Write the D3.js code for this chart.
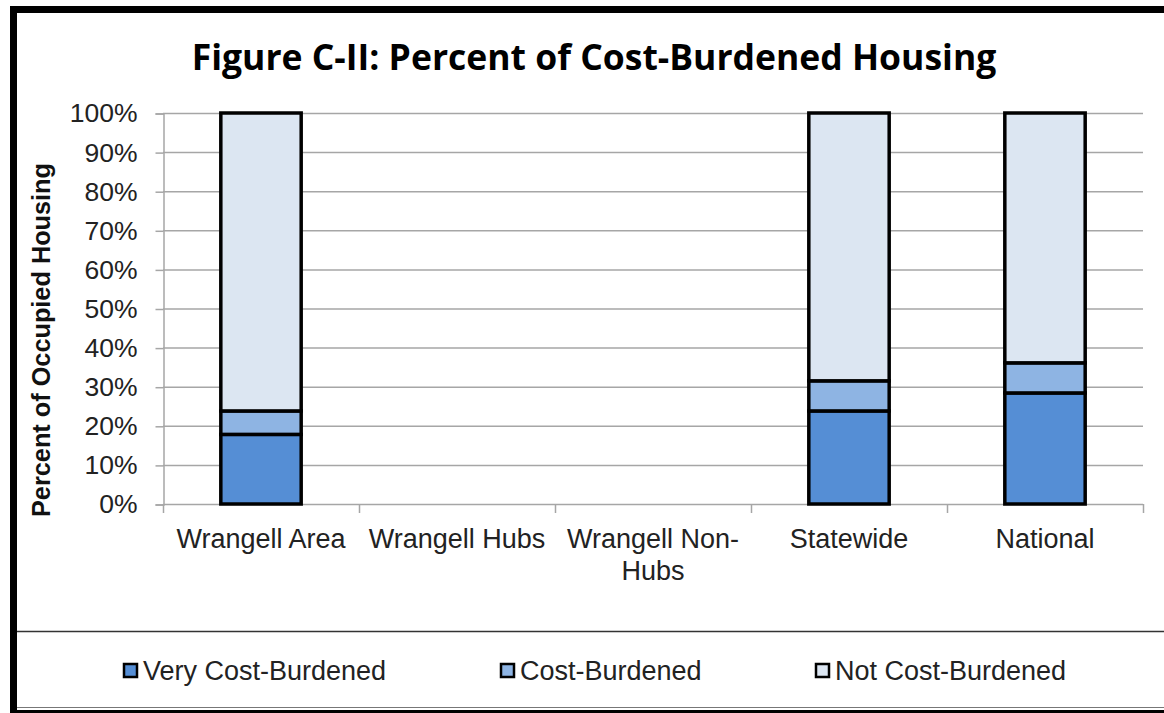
<!DOCTYPE html>
<html>
<head>
<meta charset="utf-8">
<script src="https://cdn.jsdelivr.net/npm/d3@7"></script>
<style>
  body { margin: 0; background: #fff; }
  svg { display: block; }
</style>
</head>
<body>
<div class="chart"></div>
<script>
// chart data
const categories = ["Wrangell Area", "Wrangell Hubs", "Wrangell Non-Hubs", "Statewide", "National"];
const seriesNames = ["Very Cost-Burdened", "Cost-Burdened", "Not Cost-Burdened"];
const veryBurdened = [17.8, 0, 0, 23.8, 28.4];
const burdened = [6.0, 0, 0, 7.7, 7.7];
const notBurdened = [76.2, 0, 0, 68.5, 63.9];
const yTicks = [0, 10, 20, 30, 40, 50, 60, 70, 80, 90, 100];

const colors = ["#558ed5", "#8eb4e3", "#dce6f2"];

const w = 1164;
const h = 713;
const plot = { left: 163, right: 1143, top: 113, bottom: 504 };

const svg = d3.select(".chart")
  .append("svg")
  .attr("width", w)
  .attr("height", h);

/* frame */
svg.append("rect")
  .attr("x", 13.5).attr("y", 9.5)
  .attr("width", w + 20).attr("height", 704)
  .attr("fill", "none").attr("stroke", "#000").attr("stroke-width", 7);

svg.append("line")
  .attr("x1", 17).attr("x2", w)
  .attr("y1", 707.5).attr("y2", 707.5)
  .attr("stroke", "#777").attr("stroke-width", 1);

/* title */
svg.append("text")
  .attr("x", 594).attr("y", 70)
  .attr("text-anchor", "middle")
  .attr("font-family", "'Open Sans', Lato, sans-serif")
  .attr("font-weight", "bold")
  .attr("font-size", 35.5)
  .attr("fill", "#000")
  .text("Figure C-II: Percent of Cost-Burdened Housing");

/* scales */
const rows = categories.map((c, i) => ({
  cat: c,
  "Very Cost-Burdened": veryBurdened[i],
  "Cost-Burdened": burdened[i],
  "Not Cost-Burdened": notBurdened[i]
}));
const stacked = d3.stack().keys(seriesNames)(rows);

const xScale = d3.scaleBand()
  .domain(categories)
  .range([plot.left, plot.right])
  .paddingInner(0.59)
  .paddingOuter(0.295);

const yScale = d3.scaleLinear()
  .domain([0, 100])
  .range([plot.bottom, plot.top]);

/* gridlines */
svg.append("g")
  .attr("class", "grid")
  .selectAll("line")
  .data(yTicks.filter(t => t > 0))
  .enter()
  .append("line")
  .attr("x1", plot.left).attr("x2", plot.right)
  .attr("y1", d => yScale(d) + 0.5).attr("y2", d => yScale(d) + 0.5)
  .attr("stroke", "#a6a6a6").attr("stroke-width", 1.5);

/* y axis */
const yAxis = d3.axisLeft(yScale)
  .tickValues(yTicks)
  .tickSize(8)
  .tickPadding(18)
  .tickFormat(d => d + "%");

const yG = svg.append("g")
  .attr("transform", "translate(" + (plot.left + 0.5) + ",0.5)")
  .call(yAxis);
yG.selectAll("path, line").attr("stroke", "#a6a6a6").attr("stroke-width", 1.5);
yG.selectAll("text")
  .attr("font-family", "'Liberation Sans', Arial, sans-serif")
  .attr("font-size", 26.5)
  .attr("fill", "#222");

/* x axis */
const step = xScale.step();
const bounds = categories.map(c => xScale(c) - (step - xScale.bandwidth()) / 2);
bounds.push(plot.right);

const xG = svg.append("g").attr("class", "x-axis");
xG.append("line")
  .attr("x1", plot.left).attr("x2", plot.right)
  .attr("y1", plot.bottom + 0.5).attr("y2", plot.bottom + 0.5)
  .attr("stroke", "#a6a6a6").attr("stroke-width", 1.5);
xG.selectAll(".tick")
  .data(bounds)
  .enter()
  .append("line")
  .attr("x1", d => d + 0.5).attr("x2", d => d + 0.5)
  .attr("y1", plot.bottom).attr("y2", plot.bottom + 9)
  .attr("stroke", "#a6a6a6").attr("stroke-width", 1.5);

const wrap = { "Wrangell Non-Hubs": ["Wrangell Non-", "Hubs"] };
xG.selectAll(".lbl")
  .data(categories)
  .enter()
  .append("text")
  .attr("class", "lbl")
  .attr("x", d => xScale(d) + xScale.bandwidth() / 2)
  .attr("y", 548)
  .attr("text-anchor", "middle")
  .attr("font-family", "'Liberation Sans', Arial, sans-serif")
  .attr("font-size", 27)
  .attr("fill", "#222")
  .each(function(d) {
    const lines = wrap[d] || [d];
    const t = d3.select(this);
    lines.forEach((ln, i) => {
      t.append("tspan")
        .attr("x", xScale(d) + xScale.bandwidth() / 2)
        .attr("dy", i === 0 ? 0 : 32)
        .text(ln);
    });
  });

/* y axis title */
svg.append("text")
  .attr("transform", "translate(50,340) rotate(-90)")
  .attr("text-anchor", "middle")
  .attr("font-family", "'Liberation Sans Narrow', 'Liberation Sans', sans-serif")
  .attr("font-weight", "bold")
  .attr("font-size", 26)
  .attr("textLength", 354)
  .attr("lengthAdjust", "spacingAndGlyphs")
  .attr("fill", "#111")
  .text("Percent of Occupied Housing");

/* bars */
svg.append("g")
  .selectAll("g")
  .data(stacked)
  .enter()
  .append("g")
  .attr("fill", (d, i) => colors[i])
  .selectAll("rect")
  .data(d => d.filter(s => s[1] - s[0] > 0))
  .enter()
  .append("rect")
  .attr("x", d => xScale(d.data.cat))
  .attr("y", d => yScale(d[1]))
  .attr("width", xScale.bandwidth())
  .attr("height", d => yScale(d[0]) - yScale(d[1]))
  .attr("stroke", "#000")
  .attr("stroke-width", 3.5);

/* legend */
svg.append("line")
  .attr("x1", 17).attr("x2", w)
  .attr("y1", 631.5).attr("y2", 631.5)
  .attr("stroke", "#333").attr("stroke-width", 1.5);

const legendX = [124, 501, 816];
const legend = svg.append("g")
  .selectAll("g")
  .data(seriesNames)
  .enter()
  .append("g")
  .attr("transform", (d, i) => "translate(" + legendX[i] + ",664)");
legend.append("rect")
  .attr("width", 13).attr("height", 13)
  .attr("fill", (d, i) => colors[i])
  .attr("stroke", "#000").attr("stroke-width", 2.5);
legend.append("text")
  .attr("x", 19).attr("y", 16)
  .attr("font-family", "'Liberation Sans', Arial, sans-serif")
  .attr("font-size", 27)
  .attr("fill", "#222")
  .text(d => d);
</script>
</body>
</html>
